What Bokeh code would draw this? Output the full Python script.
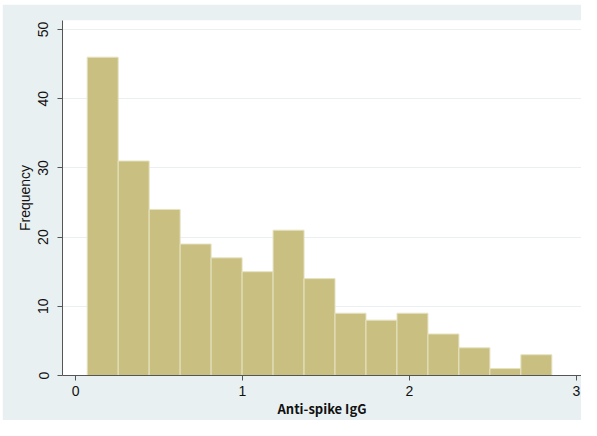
from bokeh.plotting import figure
from bokeh.models import Range1d, FixedTicker
from bokeh.embed import file_html
from bokeh.resources import INLINE

# Histogram data
bin_start = 0.07
bin_width = 0.1855
counts = [46, 31, 24, 19, 17, 15, 21, 14, 9, 8, 9, 6, 4, 1, 3]
x_ticks = [0, 1, 2, 3]
y_ticks = [0, 10, 20, 30, 40, 50]
x_title = "Anti-spike IgG"
y_title = "Frequency"

lefts = [bin_start + i * bin_width for i in range(len(counts))]
rights = [l + bin_width for l in lefts]

BG = "#E8F0F2"
BAR = "#C8BF80"

p = figure(width=579, height=416, output_backend="svg", toolbar_location=None,
           x_range=Range1d(-0.078, 3.03), y_range=Range1d(0, 51.3),
           min_border_left=60, min_border_top=16, min_border_right=0, min_border_bottom=38)
p.margin = (4, 0, 0, 2)
p.border_fill_color = BG
p.background_fill_color = "white"
p.outline_line_color = None

p.quad(left=lefts, right=rights, bottom=0, top=counts,
       fill_color=BAR, line_color="#E6E2C2", line_width=1)

p.xgrid.visible = False
p.ygrid.ticker = FixedTicker(ticks=y_ticks)
p.ygrid.grid_line_color = "#EAF0F2"
p.ygrid.grid_line_width = 1

p.xaxis.ticker = FixedTicker(ticks=x_ticks)
p.yaxis.ticker = FixedTicker(ticks=y_ticks)

for ax in (p.xaxis, p.yaxis):
    ax.axis_line_color = "#555555"
    ax.major_tick_line_color = "#555555"
    ax.major_tick_out = 5
    ax.major_tick_in = 0
    ax.minor_tick_line_color = None
    ax.major_label_text_font = "Liberation Sans"
    ax.major_label_text_font_size = "14px"
    ax.major_label_text_color = "#111111"

p.yaxis.major_label_orientation = "vertical"
p.yaxis.major_label_standoff = 9
p.yaxis.axis_label = y_title
p.yaxis.axis_label_text_font = "Liberation Sans"
p.yaxis.axis_label_text_font_style = "normal"
p.yaxis.axis_label_text_font_size = "14px"
p.yaxis.axis_label_text_color = "#111111"
p.yaxis.axis_label_standoff = 3

p.xaxis.major_label_standoff = 5
p.xaxis.axis_label = x_title
p.xaxis.axis_label_text_font = "Noto Sans CJK JP"
p.xaxis.axis_label_text_font_style = "bold"
p.xaxis.axis_label_text_font_size = "13px"
p.xaxis.axis_label_text_color = "#111111"
p.xaxis.axis_label_standoff = 0

open("out.html", "w").write(file_html(p, INLINE))
